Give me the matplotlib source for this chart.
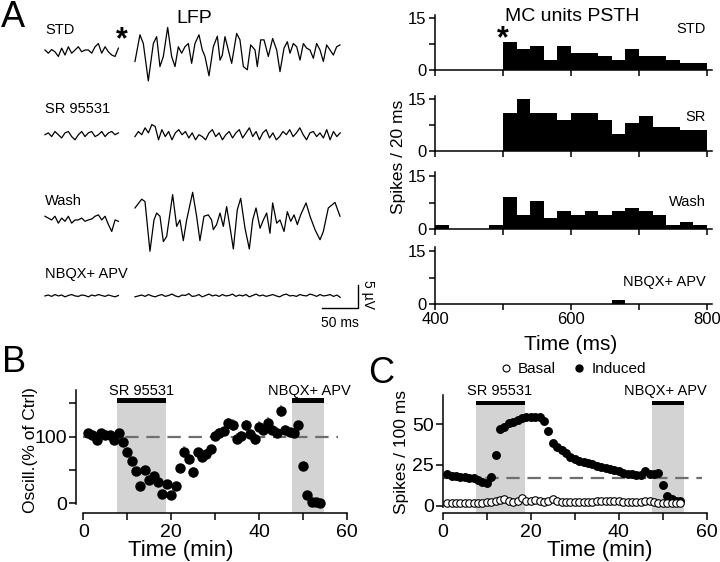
import numpy as np
import matplotlib
matplotlib.use('Agg')
import matplotlib.pyplot as plt
from matplotlib.lines import Line2D

plt.rcParams['font.family'] = ['Liberation Sans', 'DejaVu Sans']
plt.rcParams['axes.linewidth'] = 1.1
plt.rcParams['xtick.major.width'] = 1.1
plt.rcParams['ytick.major.width'] = 1.1
plt.rcParams['xtick.minor.width'] = 1.1
plt.rcParams['ytick.minor.width'] = 1.1

# ---------------- DATA ----------------
# Panel A, LFP traces (uV), pre-stimulus segment sampled uniformly -125..-23 ms
lfp_pre_t = (-125, -23)
std_pre = [0, -0.7, 0.1, -0.4, -1.4, 0.4, -1.1, 0.7, -0.7, 0, 0.7, -0.4, 0, 0, -0.7,
           0.7, 1.4, -0.7, 0.7, -0.4, -1.1, -1.4, 0.4]
std_post_t = [0, 6.9, 11.6, 18.5, 25.5, 30.1, 34.7, 39.4, 45.4, 50.9, 55.6, 60.2, 64.8,
              69.4, 74.1, 78.7, 83.3, 88.9, 93.5, 97.2, 102.8, 108.8, 114.4, 118.1, 121.3,
              125.0, 129.6, 134.3, 141.2, 145.8, 150.5, 156.0, 160.7, 166.7, 169.9, 174.6,
              179.2, 185.2, 191.2, 196.8, 201.4, 207.0, 211.6, 215.3, 219.9, 224.6, 229.2,
              233.8, 238.4, 243.1, 247.7, 252.3, 257.0, 261.6, 266.2, 270.9, 275.5, 280.1,
              284.7]
std_post = [-2.5, 3.3, 1.4, -6.7, 1.4, 2.9, -3.6, -1.4, 4.9, -1.4, -3.6, 0.7, -0.7, 0.7,
            1.4, -2.9, 1.4, 3.3, 0, -1.4, -5.6, 0.7, 3.0, -2.2, -1.1, 2.9, 0, -2.9, 3.6,
            2.2, -3.6, -4.3, 1.1, 0, -3.6, 2.2, 2.2, -1.4, 2.5, 0, -4.7, 0.4, 1.8, -0.7,
            1.4, 0.7, -2.2, 1.4, 0.4, 0, -1.8, 1.4, 0, -2.5, 1.1, 0, -1.1, 0.7, 1.1]

sr_pre = [0, 0.4, -0.4, 0.7, 0, -0.7, 0.4, 0.7, -0.4, -1.1, 0, 0.7, -0.4, 0.4, 0.7,
          -0.4, 0, 0.7, -0.4, 0.4, 0.7, 0, 0.4]
sr_post = [-0.4, 0.7, 0, 1.5, 0.4, 2.2, 1.8, -1.1, 1.1, -0.4, 0.7, -1.1, 0.4, 1.1, 0,
           0.7, -0.7, 0.4, -1.1, 0, -0.4, -1.1, 0.4, 1.1, -0.4, 0.4, -1.1, 0, 0.7, -0.7,
           0.4, 1.1, -0.7, 0.4, 1.5, -0.4, 0.7, -1.1, 0.4, 1.1, -0.7, 0.4, -1.1, -0.4,
           0.7, 0, 1.1, -0.4, 0.4, 1.5, 0, -1.1, 0.4, 0.7, -0.4, 0.4, -0.7, 1.1, -1.1,
           0.7, -0.4, 0.4]

wash_pre = [0.4, 0, -0.4, 0.4, -1.1, 0, -0.7, 0.4, -1.1, -0.4, -0.4, 0, -0.7, -0.4,
            -0.2, 0.4, 0.7, -0.4, 0.4, -1.4, -2.9, -0.4, -0.7]
wash_post_t = [0, 9.3, 13.9, 20.8, 26.4, 30.1, 34.7, 39.4, 44.0, 52.3, 57.9, 62.5, 67.1,
               71.8, 80.1, 85.6, 90.2, 95.8, 101.8, 106.4, 108.8, 113.4, 118.1, 122.7,
               127.3, 132.9, 136.6, 142.1, 146.8, 152.8, 158.8, 163.5, 168.1, 173.7,
               178.3, 182.9, 187.5, 191.2, 196.8, 201.4, 207.0, 211.6, 216.3, 220.9,
               225.5, 230.1, 237.6, 243.1, 250.0, 257.0, 261.6, 268.5, 277.8, 282.4, 284.7]
wash_post = [2.2, 4.1, 3.6, -7.2, -0.4, 1.1, 0.4, -5.1, -4.0, 5.1, -1.8, -0.4, -4.9,
             -0.4, 5.6, 0.4, -4.9, 0.4, 0.7, -0.4, -2.5, -1.4, 1.1, -1.8, 2.5, -2.9,
             -6.7, 1.8, 4.3, -2.2, -6.7, -0.4, 2.2, -2.2, -0.4, 1.1, -3.3, 3.3, -1.1,
             -0.4, -2.9, 1.4, -0.7, 0.7, -1.4, 0.7, 3.3, 0.4, -2.5, -4.7, -2.9, 2.2,
             3.4, 1.4, 0.4]

nbqx_pre = [0, 0.2, -0.1, 0.3, 0, 0.2, -0.2, 0.1, 0.3, 0, -0.1, 0.2, 0.1, -0.2, 0.2,
            0, 0.3, 0.1, -0.1, 0.2, 0, -0.2, 0.1]
nbqx_post = [-0.2, 0, 0.2, -0.1, 0.3, 0, -0.2, 0.1, 0.3, -0.1, 0.1, 0.4, 0, -0.2, 0.2,
             0.1, 0.5, -0.1, 0, 0.3, -0.2, 0.1, 0.4, 0, 0.2, -0.1, 0.3, 0, 0.1, 0.4,
             -0.1, 0.2, 0, 0.3, -0.2, 0.1, 0.4, 0, 0.2, -0.1, 0.1, 0.3, 0, -0.2, 0.2,
             0.4, 0, 0.1, -0.1, 0.3, 0.1, 0, 0.4, 0.2, -0.1, 0.3, 0, 0.1, 0.3, -0.1,
             0.2, -0.3]

lfp_labels = ['STD', 'SR 95531', 'Wash', 'NBQX+ APV']

# Panel A, PSTH (spikes / 20 ms bin, 400..800 ms)
psth_edges = np.arange(400, 801, 20)
psth_std = [0, 0, 0, 0, 0, 8, 6, 7, 3, 7, 5, 5, 4, 3, 6, 4, 4, 3, 2, 2]
psth_sr = [0, 0, 0, 0, 0, 11, 15, 11, 11, 9, 11, 11, 9, 5, 8, 10, 7, 7, 6, 6]
psth_wash = [1, 0, 0, 0, 1, 9, 4, 8, 3, 5, 4, 5, 4, 5, 6, 5, 4, 1, 2, 1]
psth_nbqx = [0, 0, 0, 0, 0, 0, 0, 0, 0, 0, 0, 0, 0, 1, 0, 0, 0, 0, 0, 0]
psth_labels = ['STD', 'SR', 'Wash', 'NBQX+ APV']

# Panel B, oscillation (% of control)
b_time = list(range(1, 55))
b_osc = [105, 102, 95, 105, 103, 102, 95, 106, 92, 77, 63, 48, 26, 50, 35, 40, 32, 13,
         28, 12, 25, 52, 77, 66, 46, 76, 69, 74, 81, 101, 105, 108, 120, 117, 97, 101,
         117, 104, 97, 115, 110, 121, 110, 106, 138, 110, 107, 105, 117, 55, 12, 2, 2, 0]
b_err = [4, 3, 4, 3, 3, 3, 4, 3, 4, 4, 4, 5, 5, 5, 5, 5, 5, 5, 5, 5, 5, 6, 9, 8, 8, 6,
         6, 6, 5, 8, 8, 7, 8, 9, 8, 7, 8, 8, 9, 8, 8, 8, 8, 8, 9, 7, 6, 6, 5, 7, 5, 4,
         3, 3]

# Panel C, spikes / 100 ms
c_time = list(range(1, 55))
c_induced = [19.4, 18.4, 18.4, 17.8, 17.8, 17.1, 16.7, 15.7, 14.7, 14.1, 17.8, 31.0,
             46.9, 48.4, 50.4, 51.4, 52.4, 53.5, 54.1, 54.5, 54.5, 54.1, 52.0, 45.9,
             38.2, 36.1, 34.1, 32.0, 30.0, 28.4, 27.3, 26.5, 25.9, 25.3, 24.5, 23.9,
             23.3, 22.7, 21.8, 21.2, 20.2, 19.4, 19.2, 18.8, 18.8, 21.4, 19.4, 19.4,
             20.2, 12.7, 5.9, 3.9, 3.1, 3.1]
c_basal = [1.4, 1.4, 1.4, 1.4, 1.4, 1.4, 1.4, 1.6, 1.6, 2.0, 2.2, 2.8, 3.5, 4.3, 2.9,
           2.5, 3.0, 4.5, 3.0, 2.6, 3.5, 3.0, 2.5, 2.8, 4.0, 3.0, 2.5, 2.2, 2.0, 2.0,
           2.2, 2.0, 2.2, 2.5, 2.8, 2.8, 3.0, 2.8, 2.8, 2.8, 2.5, 2.5, 2.3, 2.2, 2.5,
           3.0, 2.8, 2.2, 1.6, 1.4, 1.6, 1.4, 1.6, 1.5]

sr_period = (7.6, 18.8)
nbqx_period = (47.5, 54.8)
b_ctrl_level = 100
c_ctrl_level = 16.8

# ---------------- FIGURE ----------------
W, H = 720, 562
fig = plt.figure(figsize=(W / 100, H / 100), dpi=100)


def add_ax(x0, y0, x1, y1):
    return fig.add_axes([x0 / W, 1 - y1 / H, (x1 - x0) / W, (y1 - y0) / H])


def ftext(x, y, s, **kw):
    return fig.text(x / W, 1 - y / H, s, **kw)


# ----- Panel A: LFP traces -----
axL = add_ax(40, 20, 370, 336)
axL.set_xlim(-131.9, 326.4)
axL.set_ylim(-62.1, 6.51)
axL.axis('off')
offsets = [0, -18.4, -36.5, -53.4]
pres = [std_pre, sr_pre, wash_pre, nbqx_pre]
posts = [(std_post_t, std_post),
         (np.linspace(0, 285, len(sr_post)), sr_post),
         (wash_post_t, wash_post),
         (np.linspace(0, 285, len(nbqx_post)), nbqx_post)]
for pre, (pt, pv), off in zip(pres, posts, offsets):
    axL.plot(np.linspace(lfp_pre_t[0], lfp_pre_t[1], len(pre)), np.array(pre) + off,
             color='k', lw=0.9)
    axL.plot(pt, np.array(pv) + off, color='k', lw=0.9)

# scale bar: 50 ms, 5 uV
sb_x, sb_y = 259.7, -56.0
axL.plot([sb_x, sb_x + 50, sb_x + 50], [sb_y, sb_y, sb_y + 5], color='k', lw=1.0)
ftext(340, 327, '50 ms', ha='center', va='baseline', fontsize=10)
ftext(368, 294, '5 µV', ha='center', va='center', rotation=270, fontsize=10)

for lab, yb in zip(lfp_labels, [34.3, 112.7, 205, 278.3]):
    ftext(45, yb, lab, ha='left', va='baseline', fontsize=10.5)
ftext(194, 22.7, 'LFP', ha='center', va='baseline', fontsize=14)
ftext(122, 40, '*', ha='center', va='center', fontsize=22, fontweight='bold')
ftext(1, 27, 'A', ha='left', va='baseline', fontsize=26)

# ----- Panel A: PSTH -----
psth_data = [psth_std, psth_sr, psth_wash, psth_nbqx]
bottoms = [70, 151, 229, 304]
scales = [3.45, 3.467, 3.533, 3.533]
lab_base = [33.3, 120.7, 206, 286]
for i, (cnt, lab) in enumerate(zip(psth_data, psth_labels)):
    b = bottoms[i]
    ax = add_ax(435, b - 16 * scales[i], 712.4, b)
    ax.bar(psth_edges[:-1], cnt, width=20, align='edge', color='black', linewidth=0)
    ax.set_xlim(400, 808)
    ax.set_ylim(0, 16)
    for s in ['top', 'right']:
        ax.spines[s].set_visible(False)
    ax.set_yticks([0, 15])
    ax.set_yticks([7.5], minor=True)
    ax.set_xticks([400, 600, 800])
    ax.set_xticks([500, 700], minor=True)
    ax.tick_params(which='both', direction='out', length=4, labelsize=12, pad=2)
    if i < 3:
        ax.tick_params(axis='x', labelbottom=False)
    ftext(706, lab_base[i], lab, ha='right', va='baseline', fontsize=10.5)

ftext(571.7, 20.7, 'MC units PSTH', ha='center', va='baseline', fontsize=14)
ftext(503.3, 39, '*', ha='center', va='center', fontsize=22, fontweight='bold')
ftext(398, 157, 'Spikes / 20 ms', ha='center', va='center', rotation=90, fontsize=12.5)
ftext(571, 345, 'Time (ms)', ha='center', va='center', fontsize=15)

# ----- Panel B -----
axB = add_ax(76, 390, 348.9, 513)
axB.set_xlim(-1.7, 60.5)
axB.set_ylim(-15, 170)
for per in (sr_period, nbqx_period):
    axB.fill_between(per, -15, 158, color='#d3d3d3', lw=0, zorder=0)
    axB.fill_between(per, 151, 158, color='black', lw=0, zorder=1)
axB.plot([0, 58], [b_ctrl_level] * 2, ls=(0, (6, 3.5)), color='#6e6e6e', lw=1.6, zorder=1)
axB.errorbar(b_time, b_osc, yerr=b_err, fmt='o', color='black', ms=6.5,
             ecolor='#8a8a8a', elinewidth=1.2, capsize=0, zorder=3)
for s in ['top', 'right']:
    axB.spines[s].set_visible(False)
axB.spines['left'].set_bounds(-1, 170)
axB.spines['bottom'].set_bounds(0, 60)
axB.set_xticks([0, 20, 40, 60])
axB.set_xticks([10, 30, 50], minor=True)
axB.set_yticks([0, 100])
axB.set_yticks([50, 150], minor=True)
axB.tick_params(which='both', direction='out', length=5)
axB.tick_params(axis='x', labelsize=14, pad=3)
axB.tick_params(axis='y', labelsize=14, pad=1.5)
ftext(141.7, 395, 'SR 95531', ha='center', va='baseline', fontsize=10.5)
ftext(309, 395, 'NBQX+ APV', ha='center', va='baseline', fontsize=10.5)
ftext(30, 450, 'Oscill.(% of Ctrl)', ha='center', va='center', rotation=90, fontsize=12.5)
ftext(181, 556, 'Time (min)', ha='center', va='baseline', fontsize=16)
ftext(2, 371.7, 'B', ha='left', va='baseline', fontsize=26)

# ----- Panel C -----
axC = add_ax(442.7, 395, 708.9, 512.7)
axC.set_xlim(0, 60.5)
axC.set_ylim(-4.3, 67.8)
for per in (sr_period, nbqx_period):
    axC.fill_between(per, -4.3, 63.9, color='#d3d3d3', lw=0, zorder=0)
    axC.fill_between(per, 61.5, 64.3, color='black', lw=0, zorder=1)
axC.plot([0, 59], [c_ctrl_level] * 2, ls=(0, (6, 3.5)), color='#6e6e6e', lw=1.6, zorder=2)
axC.plot(c_time, c_induced, 'o', color='black', ms=5.4, zorder=3)
axC.plot(c_time, c_basal, 'o', mfc='white', mec='black', mew=0.8, ms=5.4, zorder=3)
for s in ['top', 'right']:
    axC.spines[s].set_visible(False)
axC.spines['left'].set_bounds(-1, 67.8)
axC.spines['bottom'].set_bounds(0, 60)
axC.set_xticks([0, 20, 40, 60])
axC.set_xticks([10, 30, 50], minor=True)
axC.set_yticks([0, 25, 50])
axC.tick_params(which='both', direction='out', length=5)
axC.tick_params(axis='x', labelsize=14, pad=3)
axC.tick_params(axis='y', labelsize=14, pad=1.5)
ftext(500, 395, 'SR 95531', ha='center', va='baseline', fontsize=10.5)
ftext(665.3, 395, 'NBQX+ APV', ha='center', va='baseline', fontsize=10.5)
ftext(401.7, 452, 'Spikes / 100 ms', ha='center', va='center', rotation=90, fontsize=12.5)
ftext(600, 556, 'Time (min)', ha='center', va='baseline', fontsize=16)
ftext(368, 383.3, 'C', ha='left', va='baseline', fontsize=26)

handles = [Line2D([], [], marker='o', ls='', mfc='white', mec='black', mew=0.8, ms=5),
           Line2D([], [], marker='o', ls='', color='black', ms=5)]
fig.legend(handles, ['Basal', 'Induced'], loc='center', ncol=2,
           bbox_to_anchor=(572 / W, 1 - 369 / H), frameon=False, fontsize=11,
           handletextpad=0.3, columnspacing=1.0, handlelength=1.0, borderpad=0)

fig.savefig('out.png', dpi=100)
